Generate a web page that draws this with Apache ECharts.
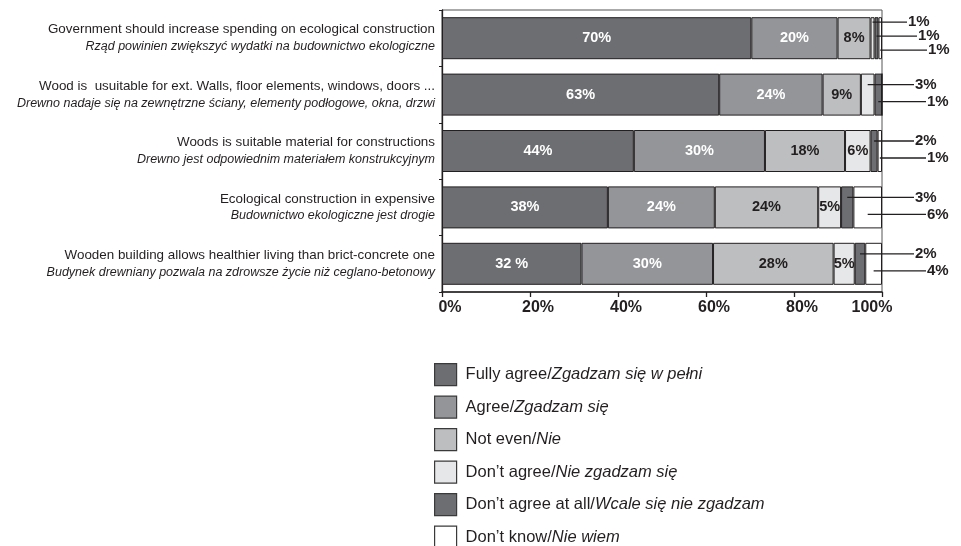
<!DOCTYPE html>
<html>
<head>
<meta charset="utf-8">
<script src="https://cdn.jsdelivr.net/npm/echarts@6/dist/echarts.min.js"></script>
<style>
html,body{margin:0;padding:0;background:#fff;}
#chart{width:961px;height:546px;}
</style>
</head>
<body>
<div id="chart"></div>
<script>
const categoriesEn = [
  'Government should increase spending on ecological construction',
  'Wood is  usuitable for ext. Walls, floor elements, windows, doors ...',
  'Woods is suitable material for constructions',
  'Ecological construction in expensive',
  'Wooden building allows healthier living than brict-concrete one'
];
const categoriesPl = [
  'Rząd powinien zwiększyć wydatki na budownictwo ekologiczne',
  'Drewno nadaje się na zewnętrzne ściany, elementy podłogowe, okna, drzwi',
  'Drewno jest odpowiednim materiałem konstrukcyjnym',
  'Budownictwo ekologiczne jest drogie',
  'Budynek drewniany pozwala na zdrowsze życie niż ceglano-betonowy'
];
const seriesNames = [
  'Fully agree/Zgadzam się w pełni',
  'Agree/Zgadzam się',
  'Not even/Nie',
  'Don’t agree/Nie zgadzam się',
  'Don’t agree at all/Wcale się nie zgadzam',
  'Don’t know/Nie wiem'
];
// segment widths (percent of bar)
const fullyAgree     = [70.3, 63.0, 43.6, 37.7, 31.7];
const agree          = [19.6, 23.5, 29.8, 24.3, 29.9];
const notEven        = [7.5, 8.7, 18.2, 23.5, 27.4];
const dontAgree      = [0.9, 3.1, 5.8, 5.2, 4.8];
const dontAgreeAtAll = [0.9, 1.7, 1.6, 2.8, 2.4];
const dontKnow       = [0.8, 0, 1.0, 6.5, 3.8];
// printed labels
const fullyAgreeLabels     = ['70%', '63%', '44%', '38%', '32 %'];
const agreeLabels          = ['20%', '24%', '30%', '24%', '30%'];
const notEvenLabels        = ['8%', '9%', '18%', '24%', '28%'];
const dontAgreeLabels      = ['1%', '3%', '6%', '5%', '5%'];
const dontAgreeAtAllLabels = ['1%', '1%', '2%', '3%', '2%'];
const dontKnowLabels       = ['1%', '', '1%', '6%', '4%'];
const xTicks = [0, 20, 40, 60, 80, 100];

const values = [fullyAgree, agree, notEven, dontAgree, dontAgreeAtAll, dontKnow];
const labels = [fullyAgreeLabels, agreeLabels, notEvenLabels, dontAgreeLabels, dontAgreeAtAllLabels, dontKnowLabels];
const colors = ['#6d6e71', '#939598', '#bcbec0', '#e6e7e8', '#6d6e71', '#ffffff'];
const labelColors = ['#ffffff', '#ffffff', '#231f20', '#231f20', '#231f20', '#231f20'];

function isInside(s, r) {
  if (s <= 2) return true;
  if (s === 3) return parseFloat(labels[s][r]) >= 5;
  return false;
}

// callouts for labels drawn outside the bars
const callouts = [];
for (let r = 0; r < categoriesEn.length; r++) {
  const rowItems = [];
  let cum = 0;
  for (let s = 0; s < values.length; s++) {
    const v = values[s][r];
    if (!isInside(s, r) && labels[s][r] !== '') {
      rowItems.push({ mid: cum + v / 2, row: r, text: labels[s][r] });
    }
    cum += v;
  }
  rowItems.forEach((it, k) => { it.k = k; it.n = rowItems.length; callouts.push(it); });
}
const calloutDx = { 1: [33], 2: [33, 45], 3: [26, 36, 46] };
const calloutDy = { 1: [0], 2: [-10, 7], 3: [-16, -2, 12] };

const FONT = '"Liberation Sans", Arial, sans-serif';
const chart = echarts.init(document.getElementById('chart'), null, { renderer: 'canvas' });

const series = values.map((vals, s) => ({
  name: seriesNames[s],
  type: 'bar',
  stack: 'total',
  barWidth: 42,
  data: vals,
  itemStyle: { color: colors[s], borderColor: '#231f20', borderWidth: 1 },
  label: {
    show: true,
    position: 'inside',
    color: labelColors[s],
    fontFamily: FONT,
    fontWeight: 'bold',
    fontSize: 14.5,
    formatter: p => isInside(s, p.dataIndex) ? labels[s][p.dataIndex] : ''
  },
  emphasis: { disabled: true },
  silent: true
}));

series.push({
  type: 'custom',
  silent: true,
  z: 10,
  data: callouts.map(c => [c.mid, c.row]),
  encode: { x: 0, y: 1 },
  renderItem: function (params, api) {
    const c = callouts[params.dataIndex];
    const p = api.coord([c.mid, c.row]);
    const right = api.coord([100, c.row])[0];
    const y = p[1] + calloutDy[c.n][c.k];
    const tx = right + calloutDx[c.n][c.k];
    return {
      type: 'group',
      children: [
        { type: 'line', shape: { x1: p[0], y1: y, x2: tx - 1, y2: y },
          style: { stroke: '#231f20', lineWidth: 1.3 } },
        { type: 'text', x: tx, y: y,
          style: { text: c.text, fill: '#231f20', font: 'bold 15px ' + FONT,
                   textAlign: 'left', textVerticalAlign: 'middle' } }
      ]
    };
  }
});

chart.setOption({
  animation: false,
  backgroundColor: '#ffffff',
  grid: { left: 442, right: 79, top: 10, bottom: 254, show: true, borderColor: '#555', borderWidth: 1, backgroundColor: 'transparent' },
  xAxis: {
    type: 'value',
    min: 0, max: 100, interval: 20,
    axisLine: { show: true, lineStyle: { color: '#231f20', width: 1.5 } },
    axisTick: { show: true, length: 5, lineStyle: { color: '#231f20', width: 1.3 } },
    splitLine: { show: false },
    axisLabel: {
      margin: 8,
      color: '#231f20',
      fontFamily: FONT,
      fontWeight: 'bold',
      fontSize: 16,
      padding: [0, 0, 0, 16],
      formatter: v => v === 100 ? '{m|' + v + '%}' : v + '%',
      rich: { m: { fontFamily: FONT, fontWeight: 'bold', fontSize: 16, color: '#231f20', padding: [0, 36, 0, 0] } }
    }
  },
  yAxis: {
    type: 'category',
    inverse: true,
    data: categoriesEn,
    axisLine: { show: true, lineStyle: { color: '#231f20', width: 1.3 } },
    axisTick: { show: true, length: 3, lineStyle: { color: '#231f20' } },
    axisLabel: {
      margin: 7,
      align: 'right',
      formatter: (v, i) => '{a|' + v + '}\n{b|' + categoriesPl[i] + '}',
      rich: {
        a: { fontFamily: FONT, fontSize: 13.4, color: '#231f20', lineHeight: 17, align: 'right' },
        b: { fontFamily: FONT, fontSize: 12.5, fontStyle: 'italic', color: '#231f20', lineHeight: 17, align: 'right' }
      }
    }
  },
  legend: {
    orient: 'vertical',
    left: 434,
    top: 363,
    height: 400,
    padding: 0,
    itemWidth: 22,
    itemHeight: 22,
    itemGap: 9.3,
    icon: 'rect',
    data: seriesNames,
    selectedMode: false,
    itemStyle: { borderColor: '#3a3a3a', borderWidth: 1.2 },
    formatter: name => {
      const i = name.indexOf('/');
      return '{a|' + name.slice(0, i + 1) + '}{b|' + name.slice(i + 1) + '}';
    },
    textStyle: {
      color: '#231f20',
      lineHeight: 22,
      rich: {
        a: { fontFamily: FONT, fontSize: 16.5, color: '#231f20', lineHeight: 22, padding: [0, 0, 0, 4] },
        b: { fontFamily: FONT, fontSize: 16.5, fontStyle: 'italic', color: '#231f20', lineHeight: 22 }
      }
    }
  },
  series: series
});
</script>
</body>
</html>
